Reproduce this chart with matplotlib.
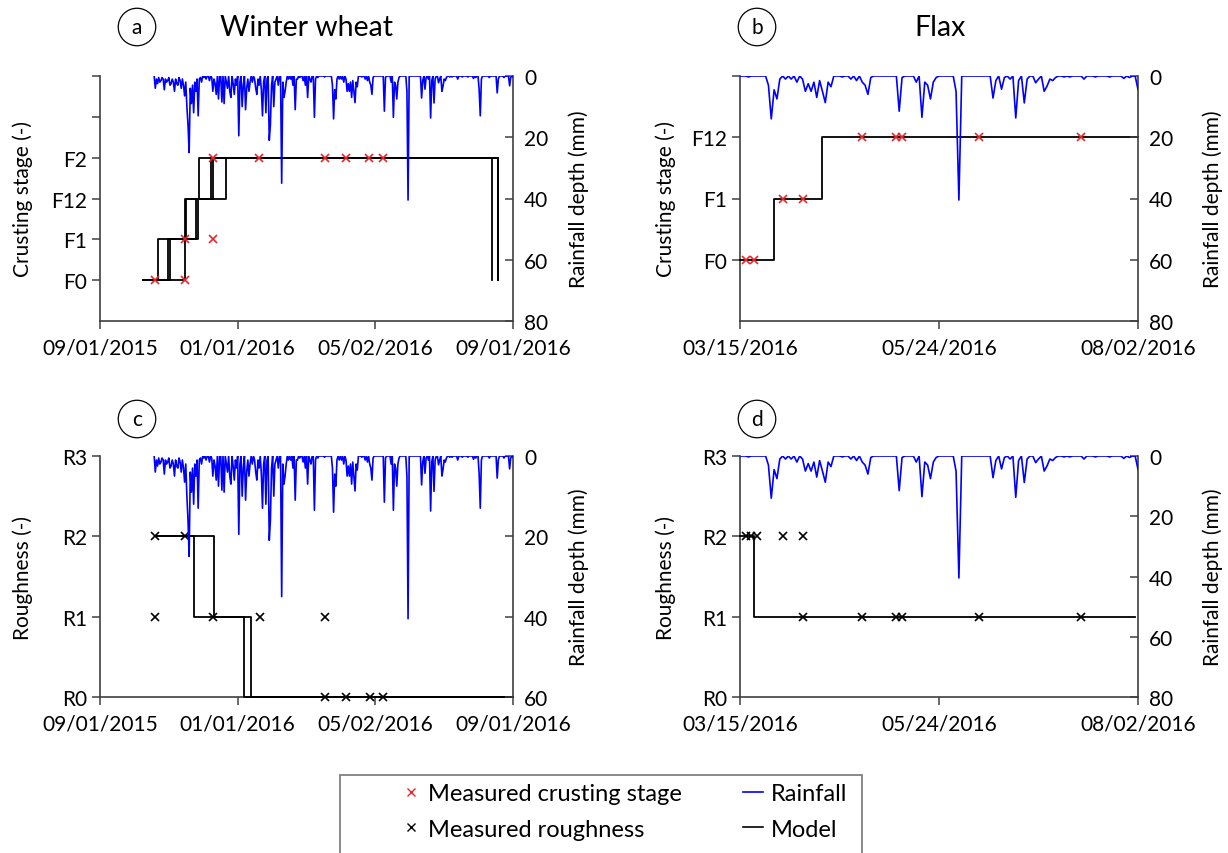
import numpy as np
import pandas as pd
import matplotlib
matplotlib.use('Agg')
import matplotlib.pyplot as plt
import matplotlib.dates as mdates
from matplotlib.lines import Line2D
from matplotlib.patches import Rectangle

plt.rcParams['font.family'] = ['Lato', 'DejaVu Sans']
FS = 15

# ---------------- data ----------------
rain_origin = '2015-09-01'
# daily rainfall (mm), listed as day offset from rain_origin; days not listed are dry (0 mm)
rain_offset = [48, 49, 50, 51, 52, 53, 54, 55, 56, 57, 58, 59, 60, 61, 62, 63, 64, 65, 66, 67,
               68, 69, 70, 71, 72, 73, 74, 75, 76, 77, 78, 79, 80, 81, 82, 83, 84, 85, 86, 87,
               88, 89, 90, 92, 94, 97, 99, 100, 101, 102, 103, 105, 108, 110, 112, 113, 115, 116,
               118, 119, 120, 121, 123, 124, 126, 127, 129, 130, 131, 132, 133, 135, 137, 138,
               139, 140, 141, 143, 144, 145, 147, 148, 150, 151, 152, 154, 155, 156, 158, 161,
               162, 163, 164, 165, 167, 169, 171, 173, 174, 175, 177, 180, 182, 184, 186, 187,
               190, 191, 193, 199, 206, 207, 208, 209, 210, 212, 214, 216, 218, 219, 220, 221,
               222, 223, 224, 225, 226, 227, 228, 232, 235, 237, 239, 240, 241, 242, 252, 253,
               258, 260, 261, 262, 263, 264, 265, 272, 273, 285, 286, 288, 289, 291, 293, 294,
               296, 297, 300, 301, 303, 304, 305, 306, 307, 310, 312, 317, 321, 326, 331, 333,
               336, 337, 338, 345, 352, 353, 358, 363, 364, 366]
rain_mm = [0, 4, 1, 2.5, 0.5, 2, 1.5, 0.5, 1, 4.5, 1, 2, 1.5, 0.5, 3, 2.5, 1, 2, 5, 1,
           2.5, 3, 0.5, 1.5, 4, 1, 3, 6.5, 2, 10, 16, 25, 4, 9, 3, 12, 2, 5, 1, 13,
           1, 0.5, 2, 0.5, 1, 1.5, 0.5, 5, 1, 2.5, 6, 7.5, 8.5, 9, 2, 4, 5, 7,
           2.5, 6, 1, 3, 19.5, 2, 10, 3, 11, 4, 1, 5, 2, 2, 1, 4,
           6, 1, 3, 4.5, 13, 2, 12, 1, 21, 16, 3, 10, 2, 1, 3, 35,
           2, 7, 5, 2, 1, 1, 3, 11, 1, 1, 0.5, 1.5, 3, 7, 1, 2,
           13.5, 1, 0.5, 0.3, 3, 14, 4.5, 7.5, 1, 1, 1, 2, 1, 5, 2.5, 5,
           2, 7, 1.5, 5, 8.7, 2, 3.5, 0.3, 1, 1.5, 2, 3, 6, 0.5, 11.5, 0.5,
           2, 13.5, 2, 3, 7.5, 2, 0.5, 5, 40.5, 7.2, 1.5, 4.3, 0.5, 1, 13.7, 1.5,
           8.8, 1, 2.2, 1, 5, 3.3, 1, 1.5, 0.5, 0.3, 0.3, 1, 0.3, 0.3, 0.8, 0.5,
           4.4, 13, 1, 0.5, 5.5, 1, 0.5, 3.2, 0.5, 0.3]
wheat_rain_period = ('2015-10-19', '2016-09-01')
flax_rain_period = ('2016-03-15', '2016-08-02')

crust_labels_wheat = ['F0', 'F1', 'F12', 'F2', '', '']
crust_labels_flax = ['F0', 'F1', 'F12', '']
rough_labels = ['R0', 'R1', 'R2', 'R3']

# modelled crusting stage, winter wheat (several runs): change dates and stage index
wheat_crust_model = [
    (['2015-10-09', '2015-10-22', '2015-11-15', '2015-11-28', '2016-08-19'], [0, 1, 2, 3, 0]),
    (['2015-10-09', '2015-10-31', '2015-11-25', '2015-12-08', '2016-08-13'], [0, 1, 2, 3, 0]),
    (['2015-10-09', '2015-11-02', '2015-11-27', '2015-12-10', '2016-08-19'], [0, 1, 2, 3, 0]),
    (['2015-10-09', '2015-11-15', '2015-11-16', '2015-12-22', '2016-08-19'], [0, 1, 2, 3, 0]),
]
wheat_crust_meas_dates = ['2015-10-20', '2015-11-15', '2015-11-15', '2015-12-10', '2015-12-10',
                          '2016-01-20', '2016-03-18', '2016-04-06', '2016-04-26', '2016-05-09']
wheat_crust_meas = [0, 0, 1, 1, 3, 3, 3, 3, 3, 3]

flax_crust_model = [(['2016-03-15', '2016-03-27', '2016-04-13', '2016-08-02'], [0, 1, 2, 2])]
flax_crust_meas_dates = ['2016-03-17', '2016-03-20', '2016-03-30', '2016-04-06', '2016-04-27',
                         '2016-05-09', '2016-05-11', '2016-06-07', '2016-07-13']
flax_crust_meas = [0, 0, 1, 1, 2, 2, 2, 2, 2]

wheat_rough_model = [
    (['2015-10-20', '2015-11-23', '2016-01-07', '2016-09-01'], [2, 1, 0, 0]),
    (['2015-10-20', '2015-12-11', '2016-01-13', '2016-09-01'], [2, 1, 0, 0]),
]
wheat_rough_meas_dates = ['2015-10-20', '2015-10-20', '2015-11-15', '2015-12-10', '2016-01-21',
                          '2016-03-18', '2016-03-18', '2016-04-06', '2016-04-27', '2016-05-09']
wheat_rough_meas = [2, 1, 2, 1, 1, 1, 0, 0, 0, 0]

flax_rough_model = [(['2016-03-15', '2016-03-20', '2016-08-01'], [2, 1, 1])]
flax_rough_meas_dates = ['2016-03-17', '2016-03-19', '2016-03-21', '2016-03-30', '2016-04-06',
                         '2016-04-06', '2016-04-27', '2016-05-09', '2016-05-11', '2016-06-07',
                         '2016-07-13']
flax_rough_meas = [2, 2, 2, 2, 2, 1, 1, 1, 1, 1, 1]

wheat_xticks = ['2015-09-01', '2016-01-01', '2016-05-02', '2016-09-01']
flax_xticks = ['2016-03-15', '2016-05-24', '2016-08-02']

# ---------------- build daily rainfall ----------------
origin = pd.Timestamp(rain_origin)
rain_dates = origin + pd.to_timedelta(rain_offset, unit='D')
rain_events = pd.Series(rain_mm, index=rain_dates)


def daily_rain(period):
    idx = pd.date_range(period[0], period[1], freq='D')
    return rain_events.reindex(idx, fill_value=0.0)


rain_wheat = daily_rain(wheat_rain_period)
rain_flax = daily_rain(flax_rain_period)

# ---------------- figure ----------------
W, H = 1228, 854
fig = plt.figure(figsize=(W / 100, H / 100), dpi=100)
SPINE = '#404040'


def add_ax(l, r, t, b):
    return fig.add_axes([l / W, 1 - b / H, (r - l) / W, (b - t) / H])


def style(ax, tw, xticks, xlim, ylim, yticks, ylabels, ylabel, rlim, rticks):
    ax.set_xlim(pd.Timestamp(xlim[0]), pd.Timestamp(xlim[1]))
    ax.set_ylim(*ylim)
    ax.set_yticks(yticks)
    ax.set_yticklabels(ylabels)
    ax.set_xticks([pd.Timestamp(d) for d in xticks])
    ax.xaxis.set_major_formatter(mdates.DateFormatter('%m/%d/%Y'))
    for s in ['top', 'right']:
        ax.spines[s].set_visible(False)
    for s in ['left', 'bottom']:
        ax.spines[s].set_color(SPINE)
        ax.spines[s].set_linewidth(1.2)
    ax.tick_params(axis='both', direction='out', length=6, width=1.1, color=SPINE,
                   labelsize=FS)
    ax.tick_params(axis='x', pad=6)
    ax.set_ylabel(ylabel, fontsize=FS)
    tw.set_ylim(*rlim)
    tw.set_yticks(rticks)
    for s in ['top', 'left', 'bottom']:
        tw.spines[s].set_visible(False)
    tw.spines['right'].set_color(SPINE)
    tw.spines['right'].set_linewidth(1.2)
    tw.tick_params(axis='y', direction='in', length=6, width=1.1, color=SPINE,
                   labelsize=FS, pad=8)
    tw.set_ylabel('Rainfall depth (mm)', fontsize=FS)


def draw_models(ax, runs):
    for dates, vals in runs:
        ax.step(pd.to_datetime(dates), vals, where='post', color='black', lw=1.3,
                clip_on=False, zorder=3)


def draw_meas(ax, dates, vals, color):
    ax.plot(pd.to_datetime(dates), vals, linestyle='none', marker='x', color=color,
            markersize=6, mew=1.2, zorder=4, clip_on=False)


def draw_rain(tw, series):
    tw.plot(series.index, series.values, color='#0000FF', lw=1.2, zorder=5)


# panel a
axa = add_ax(100, 513, 77, 322)
twa = axa.twinx()
draw_models(axa, wheat_crust_model)
draw_meas(axa, wheat_crust_meas_dates, wheat_crust_meas, '#E8262A')
draw_rain(twa, rain_wheat)
style(axa, twa, wheat_xticks, ('2015-09-01', '2016-09-01'), (-1, 5), range(6),
      crust_labels_wheat, 'Crusting stage (-)', (80, 0), [0, 20, 40, 60, 80])

# panel b
axb = add_ax(740, 1138, 77, 322)
twb = axb.twinx()
draw_models(axb, flax_crust_model)
draw_meas(axb, flax_crust_meas_dates, flax_crust_meas, '#E8262A')
draw_rain(twb, rain_flax)
style(axb, twb, flax_xticks, ('2016-03-15', '2016-08-02'), (-1, 3), range(4),
      crust_labels_flax, 'Crusting stage (-)', (80, 0), [0, 20, 40, 60, 80])

# panel c
axc = add_ax(100, 513, 457, 698)
twc = axc.twinx()
draw_models(axc, wheat_rough_model)
draw_meas(axc, wheat_rough_meas_dates, wheat_rough_meas, 'black')
draw_rain(twc, rain_wheat)
style(axc, twc, wheat_xticks, ('2015-09-01', '2016-09-01'), (0, 3), range(4),
      rough_labels, 'Roughness (-)', (60, 0), [0, 20, 40, 60])

# panel d
axd = add_ax(740, 1138, 457, 698)
twd = axd.twinx()
draw_models(axd, flax_rough_model)
draw_meas(axd, flax_rough_meas_dates, flax_rough_meas, 'black')
draw_rain(twd, rain_flax)
style(axd, twd, flax_xticks, ('2016-03-15', '2016-08-02'), (0, 3), range(4),
      rough_labels, 'Roughness (-)', (80, 0), [0, 20, 40, 60, 80])

for ax in (axa, axc):
    ax.yaxis.set_label_coords(-0.162, 0.5)
for ax in (axb, axd):
    ax.yaxis.set_label_coords(-0.161, 0.5)
for tw in (twa, twc):
    tw.yaxis.set_label_coords(1.133, 0.5)
for tw in (twb, twd):
    tw.yaxis.set_label_coords(1.163, 0.5)

# panel letters and titles
for letter, (x, y) in zip('abcd', [(137, 28), (757, 28), (137, 420), (757, 420)]):
    fig.text(x / W, 1 - y / H, letter, ha='center', va='center', fontsize=FS,
             bbox=dict(boxstyle='circle,pad=0.42', fc='white', ec='black', lw=0.9))
fig.text(307 / W, 1 - 28 / H, 'Winter wheat', ha='center', va='center', fontsize=20.5)
fig.text(940 / W, 1 - 28 / H, 'Flax', ha='center', va='center', fontsize=20.5)

# legend
fig.patches.append(Rectangle((340 / W, 1 - 870 / H), 522 / W, 94 / H,
                             transform=fig.transFigure, fill=False, ec='#808080',
                             lw=1.3))
handles = [
    Line2D([], [], linestyle='none', marker='x', color='#E8262A', markersize=6, mew=1.0),
    Line2D([], [], linestyle='none', marker='x', color='black', markersize=6, mew=1.0),
    Line2D([], [], color='#0000FF', lw=1.2),
    Line2D([], [], color='black', lw=1.2),
]
labels = ['Measured crusting stage', 'Measured roughness', 'Rainfall', 'Model']
leg = fig.legend(handles, labels, loc='upper left', bbox_to_anchor=(401 / W, 1 - 784 / H),
                 ncol=2, fontsize=17, frameon=False, handlelength=0.85,
                 columnspacing=2.6, labelspacing=0.62, borderpad=0, borderaxespad=0,
                 handletextpad=0.3)

fig.savefig('out.png', dpi=100)
